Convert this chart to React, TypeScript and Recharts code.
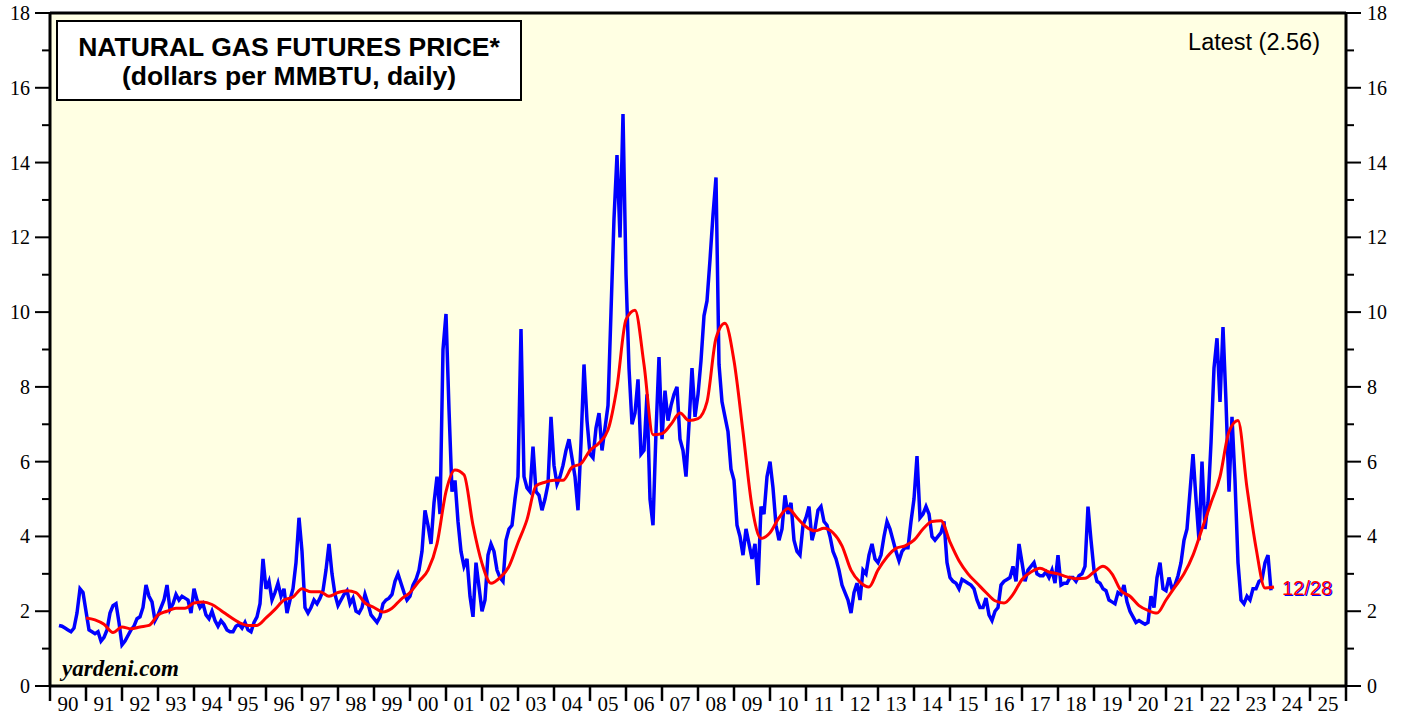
import { LineChart, Line, XAxis, YAxis, CartesianGrid, ReferenceLine } from 'recharts';

// Nearby-contract settlement, monthly readings from Apr 1990 through Dec 2023 ($/MMBTU)
const PRICE_1990S = [
  1.62, 1.6, 1.55, 1.5, 1.45, 1.55, 1.95, 2.6, 2.5,
  2.0, 1.5, 1.45, 1.4, 1.45, 1.2, 1.3, 1.5, 1.95, 2.15, 2.2, 1.7,
  1.1, 1.2, 1.35, 1.5, 1.6, 1.8, 1.85, 2.1, 2.7, 2.4, 2.25, 1.75,
  1.9, 2.1, 2.3, 2.7, 2.05, 2.2, 2.45, 2.3, 2.4, 2.35, 2.3, 1.95,
  2.6, 2.3, 2.1, 2.2, 1.9, 1.8, 2.0, 1.75, 1.6, 1.75, 1.65, 1.5,
  1.45, 1.45, 1.6, 1.65, 1.55, 1.7, 1.5, 1.45, 1.7, 1.85, 2.2, 3.4,
  2.6, 2.8, 2.3, 2.5, 2.75, 2.4, 2.6, 1.95, 2.3, 2.6, 3.3, 4.5,
  3.6, 2.1, 1.95, 2.1, 2.3, 2.2, 2.35, 2.55, 3.1, 3.8, 3.0, 2.45,
  2.15, 2.3, 2.45, 2.55, 2.2, 2.35, 2.0, 1.95, 2.1, 2.45, 2.2, 1.9,
  1.8, 1.7, 1.85, 2.2, 2.3, 2.35, 2.45, 2.8, 3.0, 2.75, 2.5, 2.3,
];

const PRICE_2000S = [
  2.4, 2.7, 2.85, 3.1, 3.6, 4.7, 4.3, 3.8, 4.9, 5.6, 4.6, 9.0,
  9.95, 7.4, 5.2, 5.5, 4.4, 3.6, 3.2, 3.4, 2.4, 1.85, 3.3, 2.65,
  2.0, 2.3, 3.5, 3.8, 3.6, 3.1, 2.9, 2.8, 3.9, 4.2, 4.3, 5.0,
  5.6, 9.55, 5.6, 5.3, 5.2, 6.4, 5.2, 5.1, 4.7, 5.0, 5.4, 7.2,
  5.9, 5.4, 5.6, 5.9, 6.3, 6.6, 6.1, 5.6, 4.7, 6.5, 8.6, 7.1,
  6.2, 6.1, 6.9, 7.3, 6.3, 6.9, 7.5, 10.0, 12.5, 14.2, 12.0, 15.3,
  11.0, 8.5, 7.0, 7.3, 8.2, 6.2, 6.3, 7.8, 5.0, 4.3, 6.8, 8.8,
  6.6, 7.9, 7.1, 7.5, 7.8, 8.0, 6.6, 6.3, 5.6, 7.0, 8.5, 7.2,
  7.8, 8.7, 9.9, 10.3, 11.4, 12.6, 13.6, 8.6, 7.6, 7.2, 6.8, 5.8,
  5.5, 4.3, 4.0, 3.5, 4.2, 3.8, 3.4, 3.8, 2.7, 4.8, 4.6, 5.6,
];

const PRICE_2010S = [
  6.0, 5.3, 4.3, 3.9, 4.2, 5.1, 4.6, 4.9, 3.9, 3.6, 3.5, 4.3,
  4.5, 4.8, 3.9, 4.2, 4.7, 4.8, 4.4, 4.3, 4.0, 3.6, 3.4, 3.1,
  2.7, 2.5, 2.3, 1.95, 2.5, 2.75, 2.3, 3.1, 3.0, 3.5, 3.8, 3.4,
  3.3, 3.5, 4.0, 4.4, 4.2, 3.9, 3.6, 3.35, 3.6, 3.7, 3.7, 4.4,
  5.0, 6.15, 4.5, 4.6, 4.8, 4.6, 4.0, 3.9, 4.0, 4.1, 4.4, 3.3,
  2.9, 2.8, 2.75, 2.6, 2.85, 2.8, 2.75, 2.7, 2.6, 2.3, 2.1, 2.1,
  2.35, 1.9, 1.75, 2.0, 2.1, 2.7, 2.8, 2.85, 2.9, 3.2, 2.8, 3.8,
  3.3, 2.8, 3.1, 3.2, 3.3, 3.0, 2.95, 2.95, 3.05, 2.9, 3.1, 2.75,
  3.5, 2.7, 2.75, 2.75, 2.9, 2.9, 2.8, 2.95, 3.0, 3.2, 4.8, 3.9,
  3.1, 2.8, 2.75, 2.6, 2.55, 2.3, 2.25, 2.2, 2.5, 2.45, 2.7, 2.25,
];

const PRICE_2020S = [
  2.0, 1.85, 1.7, 1.75, 1.7, 1.65, 1.7, 2.4, 2.1, 2.9, 3.3, 2.6,
  2.55, 2.9, 2.6, 2.7, 2.95, 3.3, 3.9, 4.2, 5.2, 6.2, 5.0, 3.9,
  6.0, 4.2, 4.9, 6.5, 8.5, 9.3, 7.6, 9.6, 7.6, 5.2, 7.2, 5.5,
  3.3, 2.3, 2.2, 2.4, 2.3, 2.6, 2.6, 2.8, 2.85, 3.3, 3.5, 2.56,
];

// 52-week moving average, read quarterly from 1991 to end-2023
const AVERAGE_QUARTERLY = [
  1.82, 1.77, 1.65, 1.43,
  1.58, 1.53, 1.58, 1.62,
  1.9, 2.0, 2.08, 2.08,
  2.22, 2.25, 2.18, 2.02,
  1.85, 1.7, 1.62, 1.62,
  1.82, 2.05, 2.3, 2.38,
  2.6, 2.52, 2.52, 2.4,
  2.5, 2.55, 2.5, 2.22,
  2.1, 1.98, 2.08, 2.32,
  2.5, 2.8, 3.1, 3.8,
  5.2, 5.78, 5.65, 4.3,
  3.28, 2.75, 2.9, 3.2,
  3.83, 4.45, 5.35, 5.45,
  5.5, 5.5, 5.85, 5.95,
  6.3, 6.5, 6.85, 8.0,
  9.8, 10.05, 8.6, 6.72,
  6.75, 7.0, 7.3, 7.1,
  7.15, 7.6, 9.3, 9.7,
  8.7, 6.8, 4.8, 3.95,
  4.1, 4.5, 4.75, 4.5,
  4.26, 4.15, 4.22, 4.1,
  3.75, 3.1, 2.78, 2.65,
  3.1, 3.45, 3.68, 3.75,
  3.9, 4.2, 4.4, 4.42,
  3.85, 3.35, 3.0, 2.75,
  2.5, 2.28, 2.22, 2.45,
  2.85, 3.05, 3.15, 3.05,
  3.0, 2.92, 2.87, 2.88,
  3.05, 3.2, 3.0, 2.55,
  2.4, 2.15, 2.02, 1.95,
  2.3, 2.65, 3.0, 3.5,
  4.2, 4.9, 5.6, 6.8,
  7.1, 5.3, 3.7, 2.62,
  2.65,
];

const PRICE_START = 1990.25;
const AVERAGE_START = 1991;
const FIRST_YEAR = 1990;
const LAST_YEAR = 2026;
const PRICE_TICKS = [0, 1, 2, 3, 4, 5, 6, 7, 8, 9, 10, 11, 12, 13, 14, 15, 16, 17, 18];

const priceData = [...PRICE_1990S, ...PRICE_2000S, ...PRICE_2010S, ...PRICE_2020S].map((v, i) => ({
  t: PRICE_START + i / 12,
  v,
}));
const averageData = AVERAGE_QUARTERLY.map((v, i) => ({ t: AVERAGE_START + i / 4, v }));

// year boundaries carry tick marks, mid-years carry the two-digit label
const yearTicks: number[] = [];
for (let y = FIRST_YEAR; y <= LAST_YEAR; y++) {
  yearTicks.push(y);
  if (y < LAST_YEAR) yearTicks.push(y + 0.5);
}

const SERIF = '"Liberation Serif", "Times New Roman", serif';
const SANS = '"Liberation Sans", Arial, Helvetica, sans-serif';

const YearTick = (props: any) => {
  const { x, y, payload } = props;
  const v = payload.value as number;
  if (Number.isInteger(v)) {
    return <line x1={x} y1={y} x2={x} y2={y + 15} stroke="#000" strokeWidth={2.5} />;
  }
  const label = String(Math.floor(v) % 100).padStart(2, '0');
  return (
    <text x={x} y={y + 25} textAnchor="middle" fontFamily={SERIF} fontSize={21} fill="#000">
      {label}
    </text>
  );
};

const LeftTick = (props: any) => {
  const { x, y, payload } = props;
  const major = payload.value % 2 === 0;
  return (
    <g>
      <line x1={x} y1={y} x2={x - (major ? 15 : 8)} y2={y} stroke="#000" strokeWidth={2} />
      {major && (
        <text x={x - 20} y={y + 7} textAnchor="end" fontFamily={SERIF} fontSize={20} fill="#000">
          {payload.value}
        </text>
      )}
    </g>
  );
};

const RightTick = (props: any) => {
  const { x, y, payload } = props;
  const major = payload.value % 2 === 0;
  return (
    <g>
      <line x1={x} y1={y} x2={x + (major ? 15 : 8)} y2={y} stroke="#000" strokeWidth={2} />
      {major && (
        <text x={x + 21} y={y + 7} textAnchor="start" fontFamily={SERIF} fontSize={20} fill="#000">
          {payload.value}
        </text>
      )}
    </g>
  );
};

export default function App() {
  return (
    <div style={{ position: 'absolute', left: 0, top: 0, width: 1406, height: 717, background: '#fff' }}>
      <LineChart width={1406} height={717} margin={{ top: 13, right: 0, bottom: 0, left: 0 }}>
        <CartesianGrid horizontal={false} vertical={false} fill="#FFFFE3" stroke="none" />
        <XAxis
          dataKey="t"
          type="number"
          domain={[FIRST_YEAR, LAST_YEAR]}
          ticks={yearTicks}
          interval={0}
          height={31}
          tickSize={0}
          tickMargin={0}
          tick={<YearTick />}
          axisLine={{ stroke: '#000', strokeWidth: 3 }}
          allowDataOverflow
        />
        <YAxis
          yAxisId="l"
          type="number"
          domain={[0, 18]}
          ticks={PRICE_TICKS}
          interval={0}
          width={50}
          tickSize={0}
          tickMargin={0}
          tick={<LeftTick />}
          axisLine={{ stroke: '#000', strokeWidth: 3 }}
          allowDataOverflow
        />
        <YAxis
          yAxisId="r"
          orientation="right"
          type="number"
          domain={[0, 18]}
          ticks={PRICE_TICKS}
          interval={0}
          width={60}
          tickSize={0}
          tickMargin={0}
          tick={<RightTick />}
          axisLine={{ stroke: '#000', strokeWidth: 3 }}
          allowDataOverflow
        />
        <ReferenceLine yAxisId="l" y={18} stroke="#000" strokeWidth={3} />
        <Line
          yAxisId="l"
          data={priceData}
          dataKey="v"
          type="linear"
          stroke="#0000FF"
          strokeWidth={3.5}
          dot={false}
          isAnimationActive={false}
        />
        <Line
          yAxisId="l"
          data={averageData}
          dataKey="v"
          type="monotone"
          stroke="#FF0000"
          strokeWidth={3}
          dot={false}
          isAnimationActive={false}
        />
      </LineChart>
      <svg
        width={1406}
        height={717}
        style={{ position: 'absolute', left: 0, top: 0, pointerEvents: 'none' }}
      >
        <rect x={57} y={21} width={464} height={79} fill="#fff" stroke="#000" strokeWidth={2} />
        <text x={289} y={56} textAnchor="middle" fontFamily={SANS} fontWeight="bold" fontSize={26.5} fill="#000">
          NATURAL GAS FUTURES PRICE*
        </text>
        <text x={289} y={85} textAnchor="middle" fontFamily={SANS} fontWeight="bold" fontSize={26.5} fill="#000">
          (dollars per MMBTU, daily)
        </text>
        <text x={1320} y={50} textAnchor="end" fontFamily={SANS} fontSize={23.5} fill="#000">
          Latest (2.56)
        </text>
        <text x={62} y={676} fontFamily={SERIF} fontStyle="italic" fontWeight="bold" fontSize={23} fill="#000">
          yardeni.com
        </text>
        <text x={1283} y={596} fontFamily={SANS} fontSize={20} fill="#0000FF">
          12/28
        </text>
        <text x={1282} y={595} fontFamily={SANS} fontSize={20} fill="#FF0000">
          12/28
        </text>
      </svg>
    </div>
  );
}
